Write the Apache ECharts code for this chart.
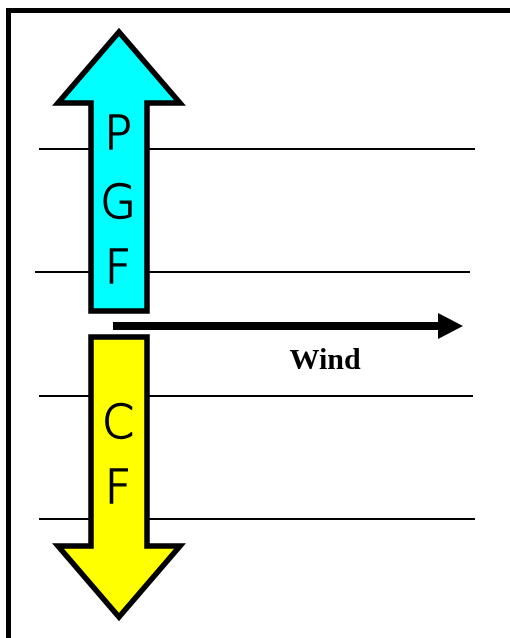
<!DOCTYPE html>
<html><head><meta charset="utf-8">
<script src="https://cdn.jsdelivr.net/npm/echarts@6/dist/echarts.min.js"></script>
<style>html,body{margin:0;padding:0;background:#fff}#c{width:510px;height:638px}</style>
</head><body><div id="c"></div><script>
// isobars (horizontal lines)
const isobarY = [149, 272, 396, 519];
const isobarX0 = [39, 35, 39, 39];
const isobarX1 = [475, 470, 473, 475];
// force arrows
const arrowNames = ['PGF', 'CF'];
const arrowCenterX = [119, 119];
const arrowTipY = [32, 617];
const arrowHeadBaseY = [103, 546];
const arrowTailY = [311, 337];
const arrowColors = ['#00FFFF', '#FFFF00'];
const arrowLetters = [['P', 'G', 'F'], ['C', 'F']];
const letterY = [[137, 206, 271], [426, 491]];
// wind arrow
const windStart = [113, 326];
const windHeadBase = [438, 326];
const windEnd = [463, 326];
const windLabel = 'Wind';
const windLabelPos = [325, 361];
// frame
const frame = [[8.5, 638], [8.5, 10.5], [510, 10.5]];

const chart = echarts.init(document.getElementById('c'), null, {renderer: 'canvas'});
const series = [];
isobarY.forEach((y, i) => {
  series.push({type: 'line', data: [[isobarX0[i], y], [isobarX1[i], y]], symbol: 'none',
    lineStyle: {color: '#000', width: 2}, z: 1, silent: true, animation: false});
});
series.push({type: 'line', data: frame, symbol: 'none', lineStyle: {color: '#000', width: 5, join: 'miter'},
  z: 1, silent: true, animation: false});

const arrowData = arrowNames.map((n, i) => [arrowCenterX[i], arrowTipY[i], arrowHeadBaseY[i], arrowTailY[i], i]);
series.push({
  type: 'custom', z: 5, animation: false, silent: true,
  data: arrowData,
  renderItem: function (params, api) {
    const cx = api.value(0), tip = api.value(1), hb = api.value(2), tail = api.value(3), idx = api.value(4);
    const hs = 28, hh = 61;
    const pts = [[cx, tip], [cx + hh, hb], [cx + hs, hb], [cx + hs, tail], [cx - hs, tail], [cx - hs, hb], [cx - hh, hb]]
      .map(p => api.coord(p));
    const children = [{type: 'polygon', shape: {points: pts},
      style: {fill: arrowColors[idx], stroke: '#000', lineWidth: 5.5, lineJoin: 'miter', miterLimit: 4}}];
    arrowLetters[idx].forEach((ch, k) => {
      const p = api.coord([cx - 1, letterY[idx][k]]);
      children.push({type: 'text', style: {text: ch, x: p[0], y: p[1], align: 'center', verticalAlign: 'middle',
        fill: '#000', stroke: '#000', lineWidth: 1.3,
        font: '200 46px "DejaVu Sans", sans-serif'}});
    });
    return {type: 'group', children: children};
  }
});

series.push({
  type: 'custom', z: 6, animation: false, silent: true,
  data: [[windStart[0], windStart[1], windHeadBase[0], windEnd[0], windLabelPos[0], windLabelPos[1]]],
  renderItem: function (params, api) {
    const s = api.coord([api.value(0), api.value(1)]);
    const hb = api.coord([api.value(2), api.value(1)]);
    const e = api.coord([api.value(3), api.value(1)]);
    const lp = api.coord([api.value(4), api.value(5)]);
    return {type: 'group', children: [
      {type: 'rect', shape: {x: s[0], y: s[1] - 4, width: hb[0] - s[0] + 2, height: 8}, style: {fill: '#000'}},
      {type: 'polygon', shape: {points: [[hb[0], hb[1] - 13], [e[0], e[1]], [hb[0], hb[1] + 13]]}, style: {fill: '#000'}},
      {type: 'text', style: {text: windLabel, x: lp[0], y: lp[1], align: 'center', verticalAlign: 'middle',
        fill: '#000', font: 'bold 30px "Liberation Serif", "Times New Roman", serif'}}
    ]};
  }
});

chart.setOption({
  animation: false,
  backgroundColor: '#fff',
  grid: {left: 0, right: 0, top: 0, bottom: 0},
  xAxis: {type: 'value', min: 0, max: 510, show: false},
  yAxis: {type: 'value', min: 0, max: 638, inverse: true, show: false},
  series: series
});
</script></body></html>
